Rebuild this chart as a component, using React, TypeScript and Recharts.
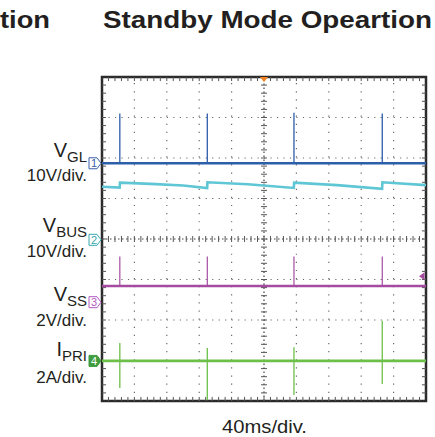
import React from "react";
import {
  ComposedChart,
  Line,
  XAxis,
  YAxis,
  ReferenceLine,
  ReferenceDot,
  ReferenceArea
} from "recharts";

// screen is 10 div x 40ms wide, 8 div tall (y in divisions, 0 = bottom)
const W = 435;
const H = 437;
const T_MAX = 400;
const DIVS = 8;

// gate pulses happen at the same instants on all channels (ms)
const spikeTimes = [22, 130, 237, 346];

// CH1 V_GL
const vglBase = 5.87;
const vglTops = [7.1, 7.1, 7.12, 7.1];

// CH2 V_BUS (little sawtooth, steps up on every burst)
const vbusTimes = [0, 21.8, 22.2, 60, 100, 129.8, 130.2, 180, 236.8, 237.2, 290, 345.8, 346.2, 400];
const vbusValues = [5.29, 5.27, 5.39, 5.36, 5.32, 5.26, 5.4, 5.35, 5.26, 5.39, 5.33, 5.24, 5.4, 5.33];

// CH3 V_SS
const vssBase = 2.84;
const vssTops = [3.57, 3.57, 3.57, 3.57];

// CH4 I_PRI
const ipriBase = 0.99;
const ipriTops = [1.43, 1.31, 1.33, 1.98];
const ipriBottoms = [0.32, 0.02, 0.15, 0.42];

// channel ground markers (div) and trigger level
const groundLevels = [5.87, 3.98, 2.44, 0.99];
const triggerLevel = 3.08;

const C_GL = "#2d5ea9";
const C_BUS = "#5ec6d4";
const C_SS = "#a54ca1";
const C_PRI = "#6cc04a";
const markerColors = ["#3a5fa8", "#3aa8b0", "#b25cc0", "#3f9c3f"];
const TEXT = "#231f20";

type Pt = { t: number; v: number | null };

const flat = (base: number): Pt[] => [
  { t: 0, v: base },
  { t: T_MAX, v: base }
];

const spikes = (base: number, tops: number[], bottoms?: number[]): Pt[] => {
  const out: Pt[] = [];
  spikeTimes.forEach((t, i) => {
    out.push({ t, v: base });
    out.push({ t, v: tops[i] });
    if (bottoms) out.push({ t, v: bottoms[i] });
    out.push({ t, v: base });
    out.push({ t: t + 0.5, v: null });
  });
  return out;
};

const vbusData: Pt[] = vbusTimes.map((t, i) => ({ t, v: vbusValues[i] }));

// grid helpers
const majorX = [40, 80, 120, 160, 240, 280, 320, 360];
const majorY = [1, 2, 3, 5, 6, 7];
const minorX = Array.from({ length: 49 }, (_, i) => (i + 1) * 8);
const minorY = Array.from({ length: 39 }, (_, i) => (i + 1) * 0.2);
const dx = 3.7; // ~3px in ms
const dy = 0.074; // ~3px in div

const Marker = (n: number) => (props: any) => {
  const { cy } = props;
  const col = markerColors[n - 1];
  const filled = n === 4;
  const x0 = 89;
  return (
    <g>
      <path
        d={`M${x0},${cy - 5.5} L${x0 + 8},${cy - 5.5} L${x0 + 12},${cy} L${x0 + 8},${cy + 5.5} L${x0},${cy + 5.5} Z`}
        fill={filled ? col : "#fff"}
        stroke={col}
        strokeWidth={1}
      />
      <text
        x={x0 + 5}
        y={cy + 4}
        textAnchor="middle"
        fontSize={11}
        fontFamily="Liberation Sans, Arial, sans-serif"
        fill={filled ? "#fff" : col}
      >
        {n}
      </text>
    </g>
  );
};

const TrigTop = (props: any) => {
  const { cx, cy } = props;
  return <path d={`M${cx - 4},${cy} L${cx + 4},${cy} L${cx},${cy + 5} Z`} fill="#f5821f" />;
};

const TrigLevel = (props: any) => {
  const { cx, cy } = props;
  return <path d={`M${cx - 7},${cy} L${cx - 1.5},${cy - 4} L${cx - 1.5},${cy + 4} Z`} fill={C_SS} />;
};

const font = "Liberation Sans, Arial, Helvetica, sans-serif";

function Labels() {
  const lab = (main: string, sub: string, y: number, scale: string, y2: number) => (
    <g fill={TEXT} fontFamily={font}>
      <text x={87} y={y} textAnchor="end" fontSize={20}>
        {main}
        <tspan fontSize={15} dy={5}>{sub}</tspan>
      </text>
      <text x={87} y={y2} textAnchor="end" fontSize={17}>
        {scale}
      </text>
    </g>
  );
  return (
    <svg
      width={W}
      height={H}
      style={{ position: "absolute", left: 0, top: 0, pointerEvents: "none" }}
    >
      <text x={0} y={28} fontSize={23} fontWeight="bold" fill={TEXT} fontFamily={font} textLength={50} lengthAdjust="spacingAndGlyphs">
        tion
      </text>
      <text x={103} y={28} fontSize={23} fontWeight="bold" fill={TEXT} fontFamily={font} textLength={329} lengthAdjust="spacingAndGlyphs">
        Standby Mode Opeartion
      </text>
      {lab("V", "GL", 157, "10V/div.", 181)}
      {lab("V", "BUS", 232, "10V/div.", 257)}
      {lab("V", "SS", 301, "2V/div.", 326)}
      {lab("I", "PRI", 356, "2A/div.", 383)}
      <text x={222} y={433} fontSize={19} fill={TEXT} fontFamily={font} textLength={85} lengthAdjust="spacingAndGlyphs">
        40ms/div.
      </text>
    </svg>
  );
}

export default function App() {
  const grid = "#6b6b6b";
  return (
    <div style={{ position: "absolute", left: 0, top: 0, width: W, height: H, background: "#fff" }}>
      <ComposedChart
        width={W}
        height={H}
        margin={{ top: 77, right: 9, bottom: 36, left: 102 }}
      >
        <XAxis dataKey="t" type="number" domain={[0, T_MAX]} hide allowDataOverflow />
        <YAxis type="number" domain={[0, DIVS]} hide allowDataOverflow />

        {majorX.map((x) => (
          <ReferenceLine key={"mx" + x} x={x} stroke={grid} strokeWidth={1.2} strokeDasharray="1.2 6.92" />
        ))}
        {majorY.map((y) => (
          <ReferenceLine key={"my" + y} y={y} stroke={grid} strokeWidth={1.2} strokeDasharray="1.2 5.28" />
        ))}
        <ReferenceLine x={200} stroke="#444" strokeWidth={1.2} strokeDasharray="1.5 2.5" />
        <ReferenceLine y={4} stroke="#444" strokeWidth={1.2} strokeDasharray="1.5 2.5" />

        {minorY.map((y) => (
          <ReferenceLine key={"cy" + y} segment={[{ x: 200 - dx, y }, { x: 200 + dx, y }]} stroke="#555" strokeWidth={1} />
        ))}
        {minorX.map((x) => (
          <ReferenceLine key={"cx" + x} segment={[{ x, y: 4 - dy }, { x, y: 4 + dy }]} stroke="#555" strokeWidth={1} />
        ))}
        {minorY.map((y) => (
          <ReferenceLine key={"ly" + y} segment={[{ x: 0, y }, { x: 5, y }]} stroke="#555" strokeWidth={1} />
        ))}
        {minorY.map((y) => (
          <ReferenceLine key={"ry" + y} segment={[{ x: T_MAX - 5, y }, { x: T_MAX, y }]} stroke="#555" strokeWidth={1} />
        ))}
        {minorX.map((x) => (
          <ReferenceLine key={"tx" + x} segment={[{ x, y: DIVS }, { x, y: DIVS - 0.1 }]} stroke="#555" strokeWidth={1} />
        ))}
        {minorX.map((x) => (
          <ReferenceLine key={"bx" + x} segment={[{ x, y: 0 }, { x, y: 0.1 }]} stroke="#555" strokeWidth={1} />
        ))}

        <ReferenceArea x1={0} x2={T_MAX} y1={0} y2={DIVS} fill="none" stroke="#2b2b2b" strokeWidth={2.5} />

        <Line data={vbusData} dataKey="v" stroke={C_BUS} strokeWidth={2.6} dot={false} activeDot={false} isAnimationActive={false} />

        <Line data={flat(vglBase)} dataKey="v" stroke={C_GL} strokeWidth={2.6} dot={false} activeDot={false} isAnimationActive={false} />
        <Line data={spikes(vglBase, vglTops)} dataKey="v" stroke={C_GL} strokeWidth={1.3} dot={false} activeDot={false} isAnimationActive={false} />

        <Line data={flat(vssBase)} dataKey="v" stroke={C_SS} strokeWidth={2.6} dot={false} activeDot={false} isAnimationActive={false} />
        <Line data={spikes(vssBase, vssTops)} dataKey="v" stroke={C_SS} strokeWidth={1.2} dot={false} activeDot={false} isAnimationActive={false} />

        <Line data={flat(ipriBase)} dataKey="v" stroke={C_PRI} strokeWidth={2.6} dot={false} activeDot={false} isAnimationActive={false} />
        <Line data={spikes(ipriBase, ipriTops, ipriBottoms)} dataKey="v" stroke={C_PRI} strokeWidth={1.3} dot={false} activeDot={false} isAnimationActive={false} />

        {groundLevels.map((g, i) => (
          <ReferenceDot key={"g" + i} x={0} y={g} r={0} shape={Marker(i + 1)} />
        ))}
        <ReferenceDot x={200} y={DIVS} r={0} shape={TrigTop} />
        <ReferenceDot x={T_MAX} y={triggerLevel} r={0} shape={TrigLevel} />
      </ComposedChart>
      <Labels />
    </div>
  );
}
